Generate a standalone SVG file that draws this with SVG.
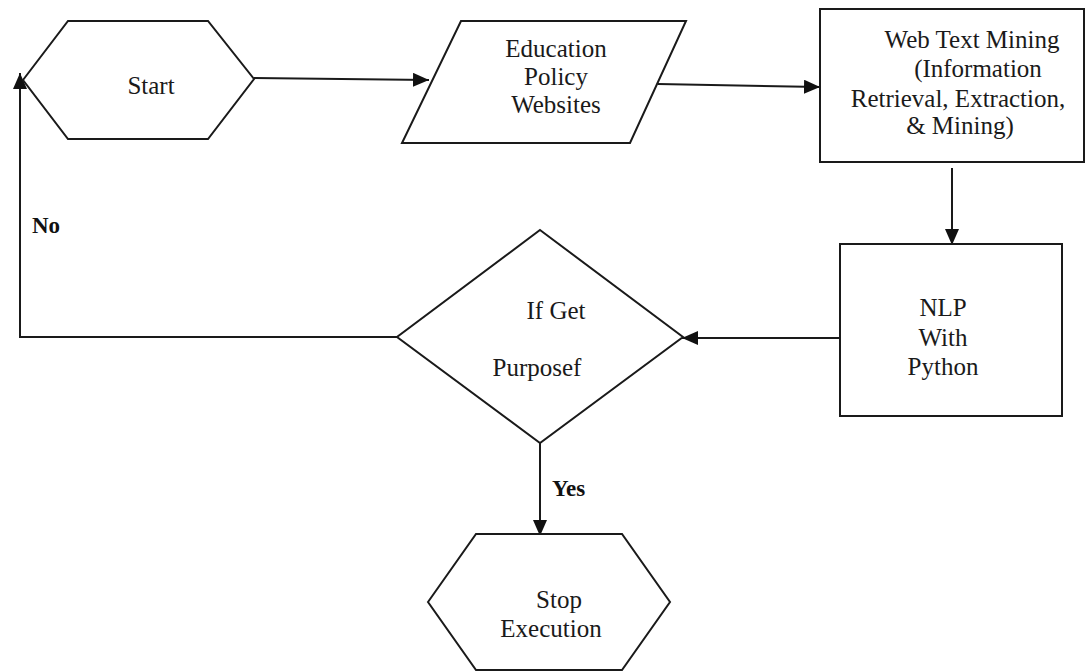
<svg xmlns="http://www.w3.org/2000/svg" width="1087" height="671" viewBox="0 0 1087 671">
<defs>
<style>
.shape{fill:#fff;stroke:#1a1a1a;stroke-width:2}
.edge{fill:none;stroke:#1a1a1a;stroke-width:2}
.t{font-family:"Liberation Serif","Times New Roman",serif;font-size:25px;fill:#1a1a1a;text-anchor:middle}
.b{font-family:"Liberation Serif","Times New Roman",serif;font-size:23px;font-weight:bold;fill:#111}
</style>
<marker id="arr" markerUnits="userSpaceOnUse" markerWidth="18" markerHeight="16" refX="16" refY="7" orient="auto">
<path d="M0,0 L16,7 L0,14 Z" fill="#111"/>
</marker>
</defs>
<rect width="1087" height="671" fill="#fff"/>
<g id="connectors">
<path class="edge" d="M254,78 L429,80" marker-end="url(#arr)"/>
<path class="edge" d="M658,84 L820,87" marker-end="url(#arr)"/>
<path class="edge" d="M952,168 L952,245" marker-end="url(#arr)"/>
<path class="edge" d="M840,338 L682,338" marker-end="url(#arr)"/>
<path class="edge" d="M397,337 L20,337 L20,73" marker-end="url(#arr)"/>
<path class="edge" d="M540,443 L540,536" marker-end="url(#arr)"/>
<text class="b" x="32" y="233">No</text>
<text class="b" x="552" y="496">Yes</text>
</g>
<g id="start">
<polygon class="shape" points="23,80 68,21 208,21 254,79 208,139 68,139"/>
<text class="t" x="151" y="94">Start</text>
</g>
<g id="education">
<polygon class="shape" points="461,21 686,21 630,143 402,143"/>
<text class="t" x="556" y="57">Education</text>
<text class="t" x="556" y="85">Policy</text>
<text class="t" x="556" y="113">Websites</text>
</g>
<g id="webmining">
<rect class="shape" x="820" y="9" width="264" height="153"/>
<text class="t" x="972" y="48">Web Text Mining</text>
<text class="t" x="978" y="77">(Information</text>
<text class="t" x="958" y="107">Retrieval, Extraction,</text>
<text class="t" x="960" y="134">&amp; Mining)</text>
</g>
<g id="nlp">
<rect class="shape" x="840" y="244" width="222" height="172"/>
<text class="t" x="943" y="316">NLP</text>
<text class="t" x="943" y="346">With</text>
<text class="t" x="943" y="375">Python</text>
</g>
<g id="decision">
<polygon class="shape" points="540,230 683,337 540,443 397,337"/>
<text class="t" x="556" y="319">If Get</text>
<text class="t" x="537" y="376">Purposef</text>
</g>
<g id="stop">
<polygon class="shape" points="428,602 476,534 622,534 670,602 622,670 476,670"/>
<text class="t" x="559" y="608">Stop</text>
<text class="t" x="551" y="637">Execution</text>
</g>
</svg>
